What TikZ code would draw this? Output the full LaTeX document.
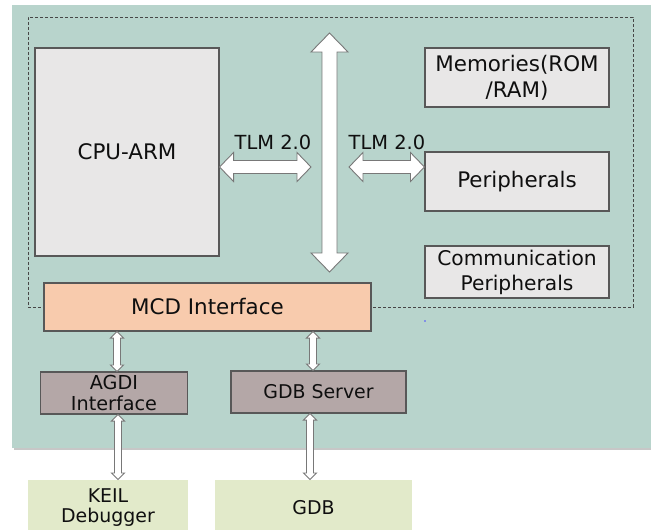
\documentclass[tikz,border=0pt]{standalone}
\usepackage{fontspec}
\setmainfont{DejaVu Sans}
\usetikzlibrary{calc}
\definecolor{bgteal}{RGB}{184,212,204}
\definecolor{boxgrey}{RGB}{232,231,231}
\definecolor{boxline}{RGB}{88,88,88}
\definecolor{peach}{RGB}{248,203,173}
\definecolor{taupe}{RGB}{180,167,167}
\definecolor{olive}{RGB}{226,234,202}
\definecolor{arrline}{RGB}{120,120,120}
\definecolor{txt}{RGB}{15,15,15}
\definecolor{dashcol}{RGB}{70,70,70}
\tikzset{
  box/.style={draw=boxline, line width=1.1bp, fill=boxgrey, inner sep=0pt, align=center,
    text=txt, font=\fontsize{21.5}{26.5}\selectfont},
  dbgbox/.style={box, fill=taupe, font=\fontsize{19}{22}\selectfont},
  hostbox/.style={box, draw=none, fill=olive, font=\fontsize{19}{20}\selectfont},
  tlm/.style={text=txt, inner sep=0pt, font=\fontsize{19.5}{22}\selectfont},
  blockarrow/.style={draw=arrline, fill=white, line width=0.9bp, line join=miter},
  socframe/.style={draw=dashcol, line width=0.8bp, dash pattern=on 3bp off 2bp, inner sep=0pt}
}
% vertical block arrow: #1 top, #2 bottom, #3 shaft half width, #4 head half width, #5 head length
\newcommand\myvarrow[5]{%
  \draw[blockarrow] let \p1=(#1), \p2=(#2) in
    (\x1,\y1) -- (\x1+#4,\y1-#5) -- (\x1+#3,\y1-#5) -- (\x1+#3,\y2+#5) -- (\x1+#4,\y2+#5)
    -- (\x1,\y2) -- (\x1-#4,\y2+#5) -- (\x1-#3,\y2+#5) -- (\x1-#3,\y1-#5) -- (\x1-#4,\y1-#5) -- cycle;}
% horizontal block arrow: #1 left, #2 right
\newcommand\myharrow[5]{%
  \draw[blockarrow] let \p1=(#1), \p2=(#2) in
    (\x1,\y1) -- (\x1+#5,\y1+#4) -- (\x1+#5,\y1+#3) -- (\x2-#5,\y1+#3) -- (\x2-#5,\y1+#4)
    -- (\x2,\y1) -- (\x2-#5,\y1-#4) -- (\x2-#5,\y1-#3) -- (\x1+#5,\y1-#3) -- (\x1+#5,\y1-#4) -- cycle;}
\begin{document}
\begin{tikzpicture}[x=1bp, y=-1bp]
\useasboundingbox (0,0) rectangle (651,530);
\clip (0,0) rectangle (651,530);
\fill[white] (0,0) rectangle (651,530);
% background panel with faint shadow
\fill[black!22] (14,447) rectangle (651,450);
\fill[bgteal] (12,5) rectangle (651,448);
% dashed SoC frame
\node[socframe, minimum width=605bp, minimum height=290bp] (soc) at (330.5,162) {};
% boxes
\node[box, minimum width=184bp, minimum height=208bp] (cpu) at (127,152) {CPU-ARM};
\node[box, minimum width=184bp, minimum height=59bp] (mem) at (517,77.5) {Memories(ROM\\/RAM)};
\node[box, minimum width=184bp, minimum height=59bp] (periph) at (517,181.5) {Peripherals};
\node[box, minimum width=184bp, minimum height=52bp, font=\fontsize{20.3}{25}\selectfont] (comm) at (517,272) {Communication\\Peripherals};
\node[box, fill=peach, minimum width=327bp, minimum height=48bp] (mcd) at (207.5,307) {MCD Interface};
\node[dbgbox, minimum width=147bp, minimum height=42bp, font=\fontsize{19.3}{21}\selectfont] (agdi) at (114,393) {AGDI\\Interface};
\node[dbgbox, minimum width=175bp, minimum height=42bp] (gdbs) at (318.5,392) {GDB Server};
\node[hostbox, minimum width=160bp, minimum height=56bp] (keil) at (108,508) {KEIL\\Debugger};
\node[hostbox, minimum width=197bp, minimum height=56bp] (gdb) at (313.5,508) {GDB};
% bus
\coordinate (bustop) at (329.5,33);
\coordinate (busbot) at (329.5,272);
\coordinate (busL) at (311,167);
\coordinate (busR) at (349,167);
\myvarrow{bustop}{busbot}{7.5bp}{18.5bp}{19bp}
% TLM links
\myharrow{cpu.east |- busL}{busL}{6.5bp}{14.5bp}{14bp}
\myharrow{busR}{periph.west |- busR}{6.5bp}{14.5bp}{14bp}
\node[tlm] (tlm1) at (273,142) {TLM 2.0};
\node[tlm] (tlm2) at (387,142) {TLM 2.0};
% debug links
\coordinate (a1) at ([xshift=3bp]agdi.north);
\myvarrow{a1 |- mcd.south}{a1}{3.5bp}{6.5bp}{6.5bp}
\coordinate (g1) at ([xshift=-5.5bp]gdbs.north);
\myvarrow{g1 |- mcd.south}{g1}{3.5bp}{6.5bp}{6.5bp}
\coordinate (a2) at ([xshift=4bp]agdi.south);
\myvarrow{a2}{a2 |- keil.north}{3.5bp}{6.5bp}{6.5bp}
\coordinate (g2) at ([xshift=-8.5bp]gdbs.south);
\myvarrow{g2}{g2 |- gdb.north}{3.5bp}{6.5bp}{6.5bp}
% stray dot
\fill[blue!70] (425,321) circle (0.8bp);
\end{tikzpicture}
\end{document}
